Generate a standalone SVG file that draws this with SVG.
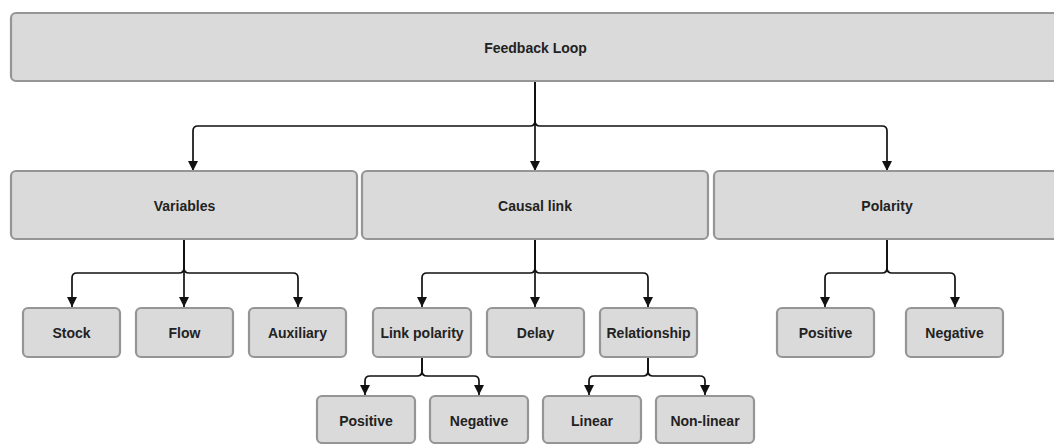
<svg xmlns="http://www.w3.org/2000/svg" width="1054" height="444" viewBox="0 0 1054 444">
  <style>
    .box { fill: #dadada; stroke: #959595; stroke-width: 2.2; }
    .lbl { font-family: "Liberation Sans", Arial, sans-serif; font-size: 14px; font-weight: bold; fill: #222; text-anchor: middle; dominant-baseline: central; }
    .edge { fill: none; stroke: #111; stroke-width: 1.7; marker-end: url(#arrow); }
  </style>
  <defs>
    <marker id="arrow" viewBox="0 0 10 10" refX="10" refY="5" markerWidth="10" markerHeight="10" markerUnits="userSpaceOnUse" orient="auto">
      <path d="M0 0 L10 5 L0 10 Z" fill="#111"/>
    </marker>
  </defs>
  <rect width="1054" height="444" fill="#ffffff"/>

  <!-- connectors -->
  <g id="connectors">
    <!-- Feedback Loop -> level 2 -->
    <path class="edge" d="M535 81 V121 Q535 126 530 126 H198 Q193 126 193 131 V171"/>
    <path class="edge" d="M535 81 V171"/>
    <path class="edge" d="M535 81 V121 Q535 126 540 126 H882 Q887 126 887 131 V171"/>
    <!-- Variables -> children -->
    <path class="edge" d="M184 239 V268 Q184 273 179 273 H77 Q72 273 72 278 V307"/>
    <path class="edge" d="M184 239 V307"/>
    <path class="edge" d="M184 239 V268 Q184 273 189 273 H293 Q298 273 298 278 V307"/>
    <!-- Causal link -> children -->
    <path class="edge" d="M535 239 V268 Q535 273 530 273 H427 Q422 273 422 278 V307"/>
    <path class="edge" d="M535 239 V307"/>
    <path class="edge" d="M535 239 V268 Q535 273 540 273 H643 Q648 273 648 278 V307"/>
    <!-- Polarity -> children -->
    <path class="edge" d="M887 239 V268 Q887 273 882 273 H830 Q825 273 825 278 V307"/>
    <path class="edge" d="M887 239 V268 Q887 273 892 273 H950 Q955 273 955 278 V307"/>
    <!-- Link polarity -> children -->
    <path class="edge" d="M422 357 V371 Q422 376 417 376 H370 Q365 376 365 381 V395"/>
    <path class="edge" d="M422 357 V371 Q422 376 427 376 H474 Q479 376 479 381 V395"/>
    <!-- Relationship -> children -->
    <path class="edge" d="M648 357 V371 Q648 376 643 376 H594 Q589 376 589 381 V395"/>
    <path class="edge" d="M648 357 V371 Q648 376 653 376 H700 Q705 376 705 381 V395"/>
  </g>

  <!-- level 1 -->
  <g id="feedback-loop">
    <rect class="box" x="11" y="13" width="1049" height="68" rx="5"/>
    <text class="lbl" x="535.5" y="48">Feedback Loop</text>
  </g>

  <!-- level 2 -->
  <g id="variables">
    <rect class="box" x="11" y="171" width="346" height="68" rx="5"/>
    <text class="lbl" x="184.5" y="206">Variables</text>
  </g>
  <g id="causal-link">
    <rect class="box" x="362" y="171" width="346" height="68" rx="5"/>
    <text class="lbl" x="535" y="206">Causal link</text>
  </g>
  <g id="polarity">
    <rect class="box" x="714" y="171" width="346" height="68" rx="5"/>
    <text class="lbl" x="887" y="206">Polarity</text>
  </g>

  <!-- level 3 -->
  <g id="stock">
    <rect class="box" x="23" y="308" width="97" height="49" rx="5"/>
    <text class="lbl" x="71.5" y="333">Stock</text>
  </g>
  <g id="flow">
    <rect class="box" x="136" y="308" width="97" height="49" rx="5"/>
    <text class="lbl" x="184.5" y="333">Flow</text>
  </g>
  <g id="auxiliary">
    <rect class="box" x="249" y="308" width="97" height="49" rx="5"/>
    <text class="lbl" x="297.5" y="333">Auxiliary</text>
  </g>
  <g id="link-polarity">
    <rect class="box" x="373" y="308" width="98" height="49" rx="5"/>
    <text class="lbl" x="422" y="333">Link polarity</text>
  </g>
  <g id="delay">
    <rect class="box" x="487" y="308" width="97" height="49" rx="5"/>
    <text class="lbl" x="535.5" y="333">Delay</text>
  </g>
  <g id="relationship">
    <rect class="box" x="600" y="308" width="97" height="49" rx="5"/>
    <text class="lbl" x="648.5" y="333">Relationship</text>
  </g>
  <g id="polarity-positive">
    <rect class="box" x="777" y="308" width="97" height="49" rx="5"/>
    <text class="lbl" x="825.5" y="333">Positive</text>
  </g>
  <g id="polarity-negative">
    <rect class="box" x="906" y="308" width="97" height="49" rx="5"/>
    <text class="lbl" x="954.5" y="333">Negative</text>
  </g>

  <!-- level 4 -->
  <g id="link-positive">
    <rect class="box" x="317" y="396" width="98" height="47" rx="5"/>
    <text class="lbl" x="366" y="421">Positive</text>
  </g>
  <g id="link-negative">
    <rect class="box" x="430" y="396" width="98" height="47" rx="5"/>
    <text class="lbl" x="479" y="421">Negative</text>
  </g>
  <g id="linear">
    <rect class="box" x="543" y="396" width="98" height="47" rx="5"/>
    <text class="lbl" x="592" y="421">Linear</text>
  </g>
  <g id="non-linear">
    <rect class="box" x="656" y="396" width="98" height="47" rx="5"/>
    <text class="lbl" x="705" y="421">Non-linear</text>
  </g>
</svg>
